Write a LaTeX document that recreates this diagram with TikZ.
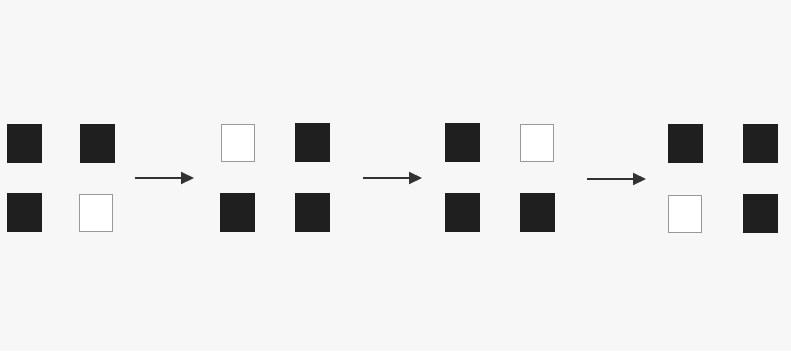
\documentclass[tikz,border=0pt]{standalone}
\usetikzlibrary{arrows.meta}
\tikzset{on/.style={fill=black!88,draw=black!88,minimum width=34pt,minimum height=38pt,inner sep=0pt},
off/.style={fill=white,draw=black!40,line width=.8pt,minimum width=33pt,minimum height=37pt,inner sep=0pt},
step arrow/.style={-{Triangle[length=13pt,width=12pt]},line width=2pt,black!80}}
\begin{document}
\begin{tikzpicture}[x=1pt,y=-1pt]
\fill[black!3](0,0)rectangle(791,351);\useasboundingbox(0,0)rectangle(791,351);
\node[on](a1)at(24.5,143){};\node[on](a2)at(97,143){};\node[on](a3)at(24.5,212.5){};\node[off](a4)at(96,212.5){};
\node[off](b1)at(237.5,142.5){};\node[on](b2)at(312.5,142.5){};\node[on](b3)at(237.5,212.5){};\node[on](b4)at(312.5,212.5){};
\node[on](c1)at(462,142.5){};\node[off](c2)at(537,142.5){};\node[on](c3)at(462,212.5){};\node[on](c4)at(537,212.5){};
\node[on](d1)at(685,143.5){};\node[on](d2)at(760,143.5){};\node[off](d3)at(685,213.5){};\node[on](d4)at(760,213.5){};
\coordinate(p1)at(135,178);\coordinate(q1)at(194,178);
\coordinate(p2)at(363,178);\coordinate(q2)at(422,178);
\coordinate(p3)at(587,179);\coordinate(q3)at(646,179);
\draw[step arrow](p1)--(q1);\draw[step arrow](p2)--(q2);\draw[step arrow](p3)--(q3);
\end{tikzpicture}
\end{document}
